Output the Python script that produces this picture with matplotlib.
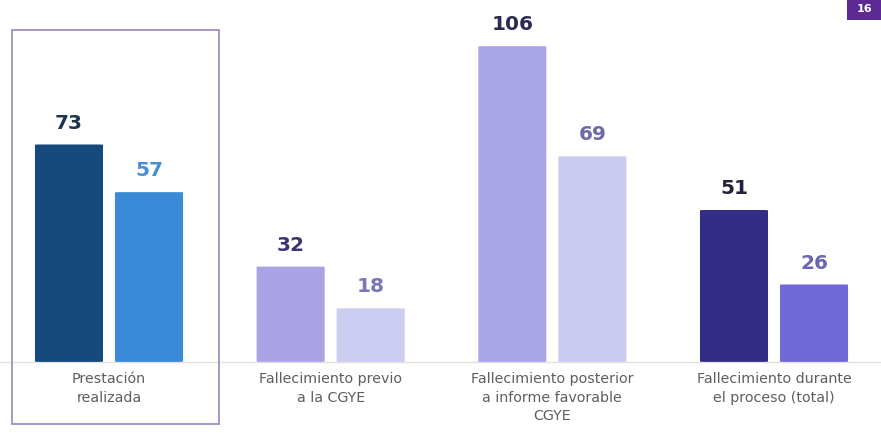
import matplotlib.pyplot as plt
from matplotlib.patches import FancyBboxPatch, Rectangle

# Casos por resultado del proceso (dos series por categoría)
categories = [
    "Prestación\nrealizada",
    "Fallecimiento previo\na la CGYE",
    "Fallecimiento posterior\na informe favorable\nCGYE",
    "Fallecimiento durante\nel proceso (total)",
]
serie_a = [73, 32, 106, 51]
serie_b = [57, 18, 69, 26]

colors_a = ["#174a7c", "#a9a3e4", "#a9a4e4", "#342d86"]
colors_b = ["#3a8ad8", "#cdcdf1", "#cbcbf0", "#7168d8"]
label_a = ["#1e3350", "#3a3470", "#2c2a52", "#23223a"]
label_b = ["#4a8ed2", "#7a78b8", "#6e6aa8", "#6b66b4"]

fig = plt.figure(figsize=(8.81, 4.34), dpi=100)
ax = fig.add_axes([0, 0, 1, 1])
ax.set_xlim(-0.4917, 3.4827)
ax.set_ylim(-24.2, 121.5)
ax.axis("off")

width = 0.307
offset = 0.1805
x = list(range(len(categories)))


def rounded_bars(positions, values, colors):
    bars = ax.bar(positions, values, width=width, color=colors)
    for bar in bars:
        bx, by = bar.get_x(), bar.get_y()
        bw, bh = bar.get_width(), bar.get_height()
        bar.set_visible(False)
        patch = FancyBboxPatch(
            (bx, by), bw, bh,
            boxstyle="round,pad=0,rounding_size=0.02",
            mutation_aspect=6.5,
            facecolor=bar.get_facecolor(), edgecolor="none", zorder=2,
        )
        ax.add_patch(patch)
    return bars


bars_a = rounded_bars([i - offset for i in x], serie_a, colors_a)
bars_b = rounded_bars([i + offset for i in x], serie_b, colors_b)

for bars, vals, cols in [(bars_a, serie_a, label_a), (bars_b, serie_b, label_b)]:
    for bar, v, c in zip(bars, vals, cols):
        ax.text(bar.get_x() + bar.get_width() / 2, v + 4, str(v),
                ha="center", va="bottom", fontsize=14.5,
                fontweight="bold", color=c)

# línea base
ax.axhline(0, color="#e4e0dc", linewidth=1.0, zorder=1)

# etiquetas de categoría
for i, cat in enumerate(categories):
    ax.text(i, -3.4, cat, ha="center", va="top", fontsize=10.3,
            color="#5e5e5e", linespacing=1.42)

# recuadro que destaca la primera categoría
fig.patches.append(Rectangle((12 / 881, 10 / 434), 207 / 881, 394 / 434,
                             transform=fig.transFigure, fill=False,
                             edgecolor="#a08fbe", linewidth=1.3))

# distintivo de página arriba a la derecha
fig.patches.append(Rectangle((847 / 881, 414 / 434), 40 / 881, 22 / 434,
                             transform=fig.transFigure,
                             facecolor="#5b2a92", edgecolor="none"))
fig.text(864 / 881, 425 / 434, "16", color="white", fontsize=8,
         fontweight="bold", ha="center", va="center")

fig.savefig("out.png", dpi=100)
